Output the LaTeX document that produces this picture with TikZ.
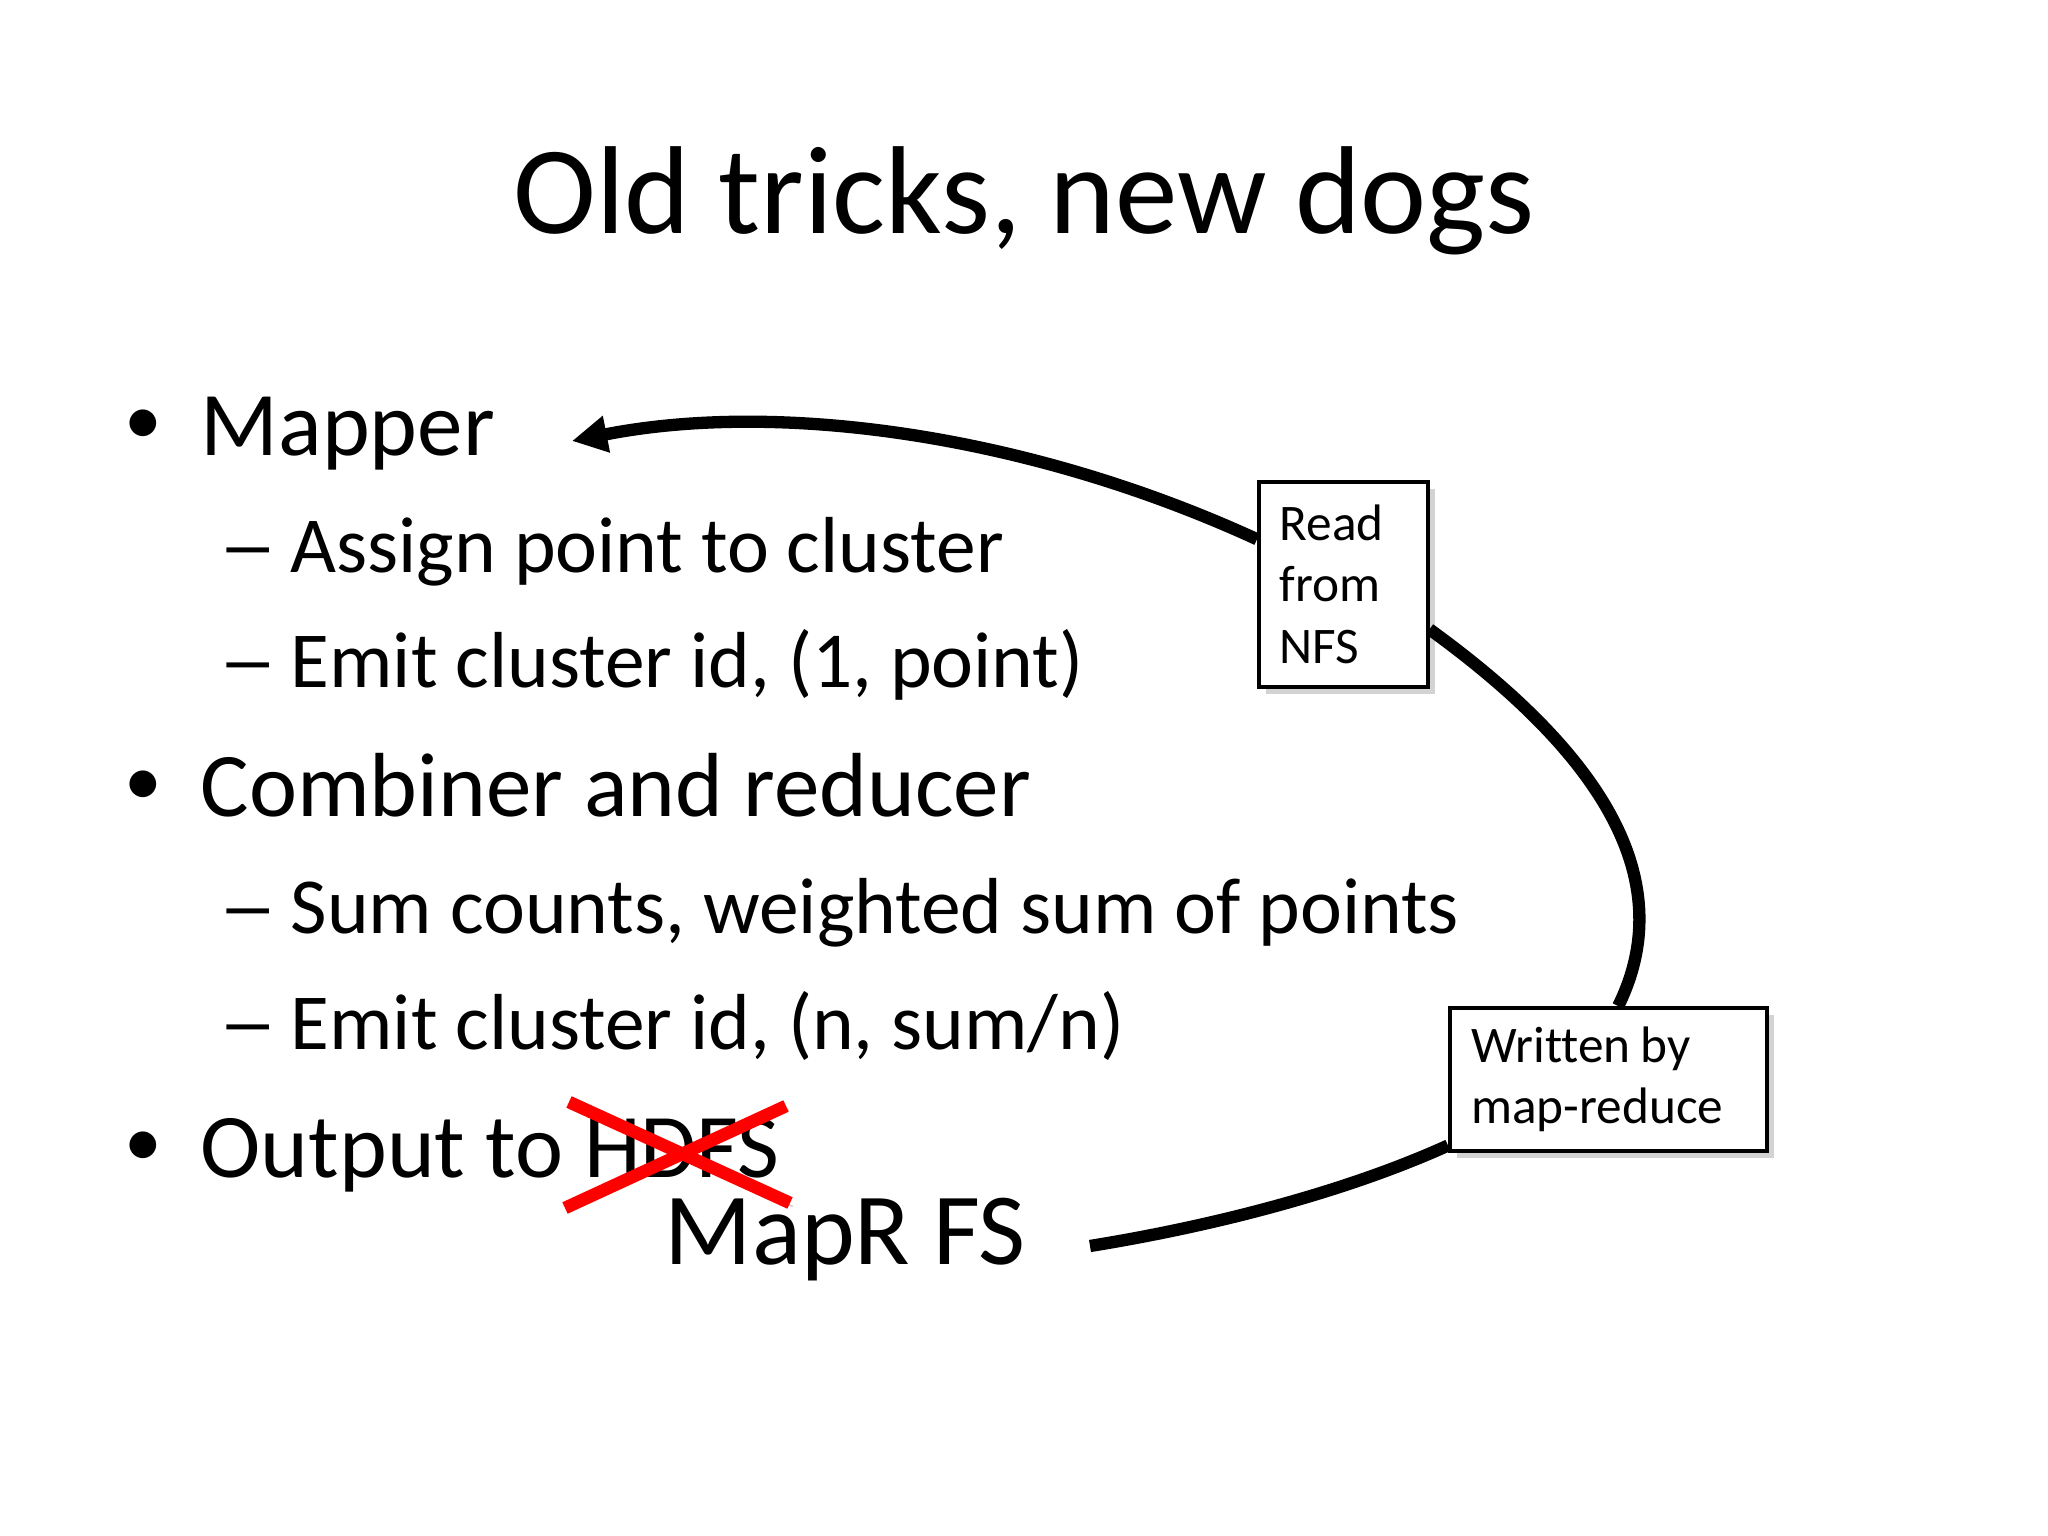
\documentclass[tikz,border=0pt]{standalone}
\usepackage{fontspec}
\setmainfont{Carlito}[Ligatures=CommonOff]
\usetikzlibrary{arrows.meta,shadows}
\newcommand{\longdash}{\scalebox{1.5}[1]{–}}

\begin{document}
\begin{tikzpicture}
      \tikzset{>={Triangle[length=10pt,width=10pt]}}
      \tikzset{lvlone/.style={anchor=base west,inner sep=0pt,font=\fontsize{25.9}{31}\selectfont}}
      \tikzset{lvltwo/.style={anchor=base west,inner sep=0pt,font=\fontsize{22.6}{27}\selectfont}}
      \tikzset{dot/.style={anchor=base west,inner sep=0pt,font=\fontsize{21.5}{26}\selectfont}}
      \tikzset{notebox/.style={draw=black,line width=1pt,fill=white,anchor=north west,align=left,inner sep=0pt,
          text width=#1,font=\fontsize{14.6}{17.5}\selectfont,drop shadow={shadow xshift=2pt,shadow yshift=-2pt,opacity=0.35}}}
      \tikzset{link/.style={line width=3.5pt,black}}
      \tikzset{crossout/.style={line width=3.6pt,red,preaction={draw=black,opacity=0.2,transform canvas={shift={(0.8pt,-1pt)}}}}}

      \useasboundingbox (0,0) rectangle (20.48,-15.36);

      \node[anchor=base,inner sep=0pt,font=\fontsize{35.6}{43}\selectfont](title) at (10.24,-2.34) {Old tricks, new dogs};

      \node[dot](bulleta) at (1.24,-4.45) {•};
      \node[lvlone](mapper) at (2.00,-4.56) {Mapper};
      \node[lvltwo](dasha) at (2.18,-5.73) {\longdash};
      \node[lvltwo](assign) at (2.90,-5.73) {Assign point to cluster};
      \node[lvltwo](dashb) at (2.18,-6.88) {\longdash};
      \node[lvltwo](emitone) at (2.90,-6.88) {Emit cluster id, (1, point)};
      \node[dot](bulletb) at (1.24,-8.05) {•};
      \node[lvlone](combiner) at (2.00,-8.16) {Combiner and reducer};
      \node[lvltwo](dashc) at (2.18,-9.33) {\longdash};
      \node[lvltwo](sum) at (2.90,-9.33) {Sum counts, weighted sum of points};
      \node[lvltwo](dashd) at (2.18,-10.49) {\longdash};
      \node[lvltwo](emittwo) at (2.90,-10.49) {Emit cluster id, (n, sum/n)};
      \node[dot](bulletc) at (1.24,-11.66) {•};
      \node[lvlone](output) at (2.00,-11.77) {Output to HDFS};
      \node[anchor=base west,inner sep=0pt,font=\fontsize{29.1}{35}\selectfont](mapr) at (6.64,-12.64) {MapR FS};

      \coordinate (crossa) at (5.69,-11.02);
      \coordinate (crossb) at (7.90,-12.03);
      \coordinate (crossc) at (5.65,-12.08);
      \coordinate (crossd) at (7.86,-11.06);
      \draw[crossout] (crossa) -- (crossb);
      \draw[crossout] (crossc) -- (crossd);

      \node[notebox=1.27cm,minimum height=2.05cm,inner xsep=0.21cm](read) at (12.57,-4.80) {Read\\from\\NFS};
      \node[notebox=2.74cm,minimum height=1.43cm,inner xsep=0.215cm,yshift=-0.01cm](written) at (14.48,-10.05) {Written\kern-2pt{} by\\map-reduce};

      \coordinate (maprend) at (10.90,-12.46);
      \coordinate (mapperend) at (5.72,-4.41);
      \draw[link] (maprend) .. controls (12.20,-12.25) and (13.50,-11.90) .. ([yshift=0.07cm]written.south west);
      \draw[link] ([xshift=0.10cm]written.north) .. controls (16.78,-8.85) and (16.10,-7.60) .. ([yshift=-0.45cm]read.east);
      \draw[link,->] ([yshift=0.45cm]read.west) .. controls (10.30,-4.35) and (7.80,-4.00) .. (mapperend);
\end{tikzpicture}
\end{document}
